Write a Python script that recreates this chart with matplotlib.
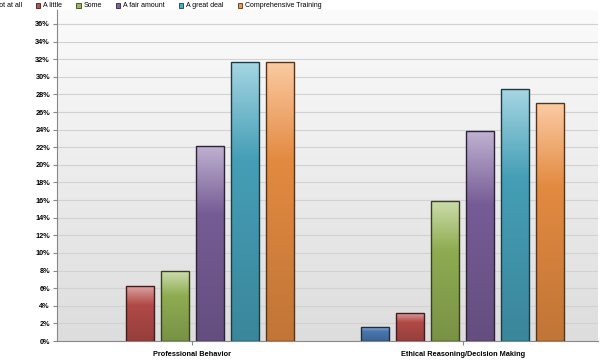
import numpy as np
import matplotlib
matplotlib.use("Agg")
import matplotlib.pyplot as plt
from matplotlib.colors import to_rgb
from matplotlib.patches import Rectangle

categories = ["Professional Behavior", "Ethical Reasoning/Decision Making"]
series_names = ["Not at all", "A little", "Some", "A fair amount", "A great deal", "Comprehensive Training"]
values = {
    "Not at all": [0.0, 1.6],
    "A little": [6.3, 3.2],
    "Some": [7.9, 15.9],
    "A fair amount": [22.2, 23.8],
    "A great deal": [31.7, 28.6],
    "Comprehensive Training": [31.7, 27.0],
}
colors = ["#4F81BD", "#C0504D", "#9BBB59", "#8064A2", "#4BACC6", "#F79646"]
yticks = list(range(0, 37, 2))

plt.rcParams['font.family'] = ['Liberation Sans', 'DejaVu Sans']

fig = plt.figure(figsize=(6.03, 3.6), dpi=100)
W, H = 603, 360
left, right, bottom, top = 57, 598, 341, 10
ax = fig.add_axes([left / W, 1 - bottom / H, (right - left) / W, (bottom - top) / H])

ymax = 36 + (24 - top) / ((341 - 24) / 36)

# background gradient (white at top, light gray at bottom)
grad = np.linspace(0, 1, 256).reshape(-1, 1)
c_top = np.array(to_rgb("#fbfbfb"))
c_bot = np.array(to_rgb("#dddddd"))
bg = c_top[None, None, :] * (1 - grad[:, :, None]) + c_bot[None, None, :] * grad[:, :, None]
ax.imshow(bg, extent=[-0.5, 1.5, 0, ymax], aspect='auto', zorder=0, origin='upper')

ax.set_yticks(yticks)
ax.set_yticklabels([f"{t}%" for t in yticks])
ax.yaxis.grid(True, color="#d2d2d2", linewidth=0.8, zorder=1)
ax.set_axisbelow(True)

x = np.arange(len(categories))
bw = 28 / 270.5
step = 35 / 270.5
n = len(series_names)
for i, (name, col) in enumerate(zip(series_names, colors)):
    pos = x + (i - (n - 1) / 2) * step
    base = np.array(to_rgb(col))
    vals = values[name]
    bars = ax.bar(pos, vals, width=bw, facecolor='none',
                  edgecolor=tuple(base * 0.35),
                  linewidth=[1.0 if v > 0 else 0 for v in vals], zorder=3)
    light = base * 0.5 + 0.5
    mid = base * 0.92
    dark = base * 0.78
    g = np.linspace(0, 1, 128)
    t1 = np.clip(g / 0.35, 0, 1)
    t2 = np.clip((g - 0.35) / 0.65, 0, 1)
    cols = np.where((g < 0.35)[:, None],
                    light[None, :] * (1 - t1[:, None]) + mid[None, :] * t1[:, None],
                    mid[None, :] * (1 - t2[:, None]) + dark[None, :] * t2[:, None])
    img = cols[:, None, :]
    for b, v in zip(bars, vals):
        if v <= 0:
            continue
        x0 = b.get_x()
        im = ax.imshow(img, extent=[x0, x0 + bw, 0, v], aspect='auto', zorder=2, origin='upper')
        im.set_clip_path(b)
ax.set_xlim(-0.5, 1.5)
ax.set_ylim(0, ymax)

ax.set_xticks(x)
ax.set_xticklabels(categories, fontsize=5.3, fontweight='bold')
ax.tick_params(axis='x', length=3, color="#888888", pad=4)
ax.tick_params(axis='y', length=3, color="#888888", labelsize=5.3, pad=2)
for lab in ax.get_yticklabels():
    lab.set_fontweight('bold')

for s in ['top', 'right']:
    ax.spines[s].set_visible(False)
ax.spines['left'].set_color("#888888")
ax.spines['bottom'].set_color("#888888")

# manual legend along the top, first entry clipped at the left edge
renderer = fig.canvas.get_renderer()
fs = 5.0
ycen = 5.5
sq = 4.5
gap_sq = 3
gap_item = 13.8
widths = []
for name in series_names:
    t = fig.text(0, 0, name, fontsize=fs)
    widths.append(t.get_window_extent(renderer).width)
    t.remove()
xcur = 22 - widths[0] - gap_sq - sq
for name, col, w in zip(series_names, colors, widths):
    base = np.array(to_rgb(col))
    fig.patches.append(Rectangle((xcur / W, 1 - (ycen + sq / 2) / H), sq / W, sq / H,
                                 transform=fig.transFigure, facecolor=col,
                                 edgecolor=tuple(base * 0.35), linewidth=0.6))
    fig.text((xcur + sq + gap_sq) / W, 1 - ycen / H, name, fontsize=fs, va='center', ha='left')
    xcur += sq + gap_sq + w + gap_item

fig.savefig("out.png", dpi=100)
